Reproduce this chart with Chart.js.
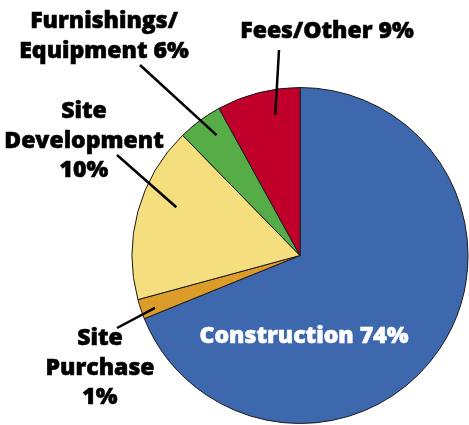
<!DOCTYPE html>
<html>
<head>
<meta charset="utf-8">
<script src="https://cdn.jsdelivr.net/npm/chart.js@4.4.1/dist/chart.umd.min.js"></script>
<style>
  html, body { margin: 0; padding: 0; background: #fff; }
  #wrap { width: 469px; height: 425px; overflow: hidden; }
</style>
</head>
<body>
<div id="wrap"><canvas id="pieChart" width="469" height="425"></canvas></div>
<script>
// slices clockwise from 12 o'clock (share of the circle as drawn)
const categories = ['Construction', 'Site Purchase', 'Site Development', 'Furnishings/Equipment', 'Fees/Other'];
const sliceValues = [68.8, 1.9, 16.9, 4.3, 8.0];
// percentages printed on the labels
const labelPercents = [74, 1, 10, 6, 9];
const labelLines = [
    ['Construction ' + labelPercents[0] + '%'],
    ['Site', 'Purchase', labelPercents[1] + '%'],
    ['Site', 'Development', labelPercents[2] + '%'],
    ['Furnishings/', 'Equipment ' + labelPercents[3] + '%'],
    ['Fees/Other ' + labelPercents[4] + '%']
];
const sliceColors = ['#3d68ad', '#dc9c2a', '#f4de7e', '#56ac46', '#c0002b'];

// label placement: text centre/baseline, leader line outer end, and where the line ends inside the slice
const labelLayout = [
    { x: 304, y: 343, color: '#fff', leader: null },
    { x: 100, y: 345, color: '#000', leader: { x: 117, y: 328, along: 0.32, r: 0.918 } },
    { x: 84, y: 118, color: '#000', leader: { x: 117, y: 155, along: 0.60, r: 0.79 } },
    { x: 104, y: 28, color: '#000', leader: { x: 140, y: 65, along: 0.62, r: 0.872 } },
    { x: 327, y: 38, color: '#000', leader: { x: 279, y: 50, along: 0.654, r: 0.849 } }
];

const FAMILY = '"Open Sans", Lato, sans-serif';
const LINE_H = 29.5;

const sliceLabels = {
    id: 'sliceLabels',
    afterDatasetsDraw(chart) {
        const ctx = chart.ctx;
        const arcs = chart.getDatasetMeta(0).data;
        ctx.save();
        arcs.forEach((arc, i) => {
            const lay = labelLayout[i];
            if (lay.leader) {
                const p = arc.getProps(['x', 'y', 'startAngle', 'endAngle', 'outerRadius'], true);
                const a = p.startAngle + (p.endAngle - p.startAngle) * lay.leader.along;
                const r = p.outerRadius * lay.leader.r;
                ctx.beginPath();
                ctx.moveTo(lay.leader.x, lay.leader.y);
                ctx.lineTo(p.x + Math.cos(a) * r, p.y + Math.sin(a) * r);
                ctx.strokeStyle = '#000';
                ctx.lineWidth = 2.5;
                ctx.stroke();
            }
            ctx.font = '800 23px ' + FAMILY;
            ctx.fillStyle = lay.color;
            ctx.strokeStyle = lay.color;
            ctx.lineWidth = 0.6;
            ctx.textAlign = 'center';
            ctx.textBaseline = 'alphabetic';
            labelLines[i].forEach((line, k) => {
                ctx.fillText(line, lay.x, lay.y + k * LINE_H);
                ctx.strokeText(line, lay.x, lay.y + k * LINE_H);
            });
        });
        ctx.restore();
    }
};

new Chart(document.getElementById('pieChart'), {
    type: 'pie',
    data: {
        labels: categories,
        datasets: [{
            data: sliceValues,
            backgroundColor: sliceColors,
            borderColor: '#1a1a1a',
            borderWidth: 1
        }]
    },
    options: {
        responsive: false,
        animation: false,
        radius: 168,
        layout: { padding: { left: 131, top: 86, right: 0, bottom: 0 } },
        plugins: {
            legend: { display: false },
            tooltip: { enabled: false }
        }
    },
    plugins: [sliceLabels]
});
</script>
</body>
</html>
